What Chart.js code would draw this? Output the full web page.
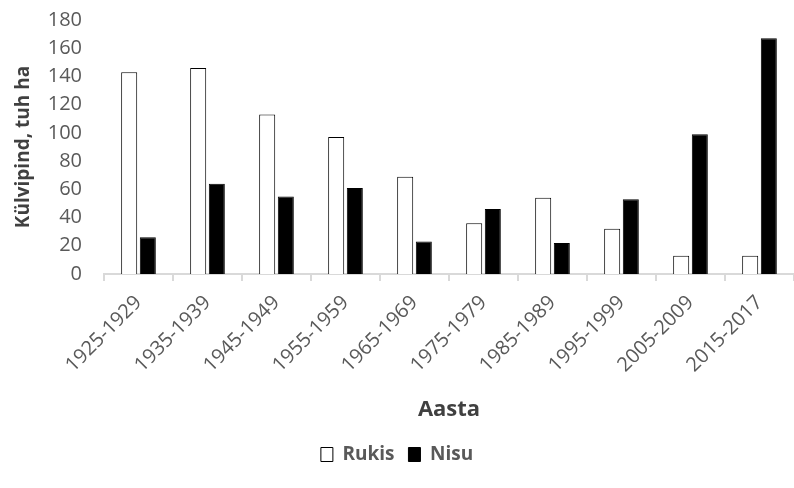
<!DOCTYPE html>
<html>
<head>
<meta charset="utf-8">
<script src="https://cdn.jsdelivr.net/npm/chart.js@4"></script>
<style>
  html, body { margin: 0; padding: 0; background: #fff; }
  #wrap { width: 794px; height: 488px; }
</style>
</head>
<body>
<div id="wrap"><canvas id="c" width="794" height="488"></canvas></div>
<script>
// Külvipind perioodide kaupa (tuh ha)
const periods = ['1925-1929', '1935-1939', '1945-1949', '1955-1959', '1965-1969',
                 '1975-1979', '1985-1989', '1995-1999', '2005-2009', '2015-2017'];
const rukis = [143, 146, 113, 97, 69, 36, 54, 32, 13, 13];
const nisu  = [26, 64, 55, 61, 23, 46, 22, 53, 99, 167];
const yTicks = [0, 20, 40, 60, 80, 100, 120, 140, 160, 180];

const grey = '#595959';
const font = 'Open Sans';

new Chart(document.getElementById('c').getContext('2d'), {
    type: 'bar',
    data: {
        labels: periods,
        datasets: [
            { label: 'Rukis', data: rukis, backgroundColor: '#ffffff', borderColor: '#000000', borderWidth: 1,
              categoryPercentage: 0.54, barPercentage: 0.86 },
            { label: 'Nisu', data: nisu, backgroundColor: '#000000', borderColor: '#000000', borderWidth: 1,
              categoryPercentage: 0.54, barPercentage: 0.86 }
        ]
    },
    options: {
        responsive: false,
        animation: false,
        layout: { padding: { top: 20, right: 0, left: 0, bottom: 14 } },
        plugins: {
            tooltip: { enabled: false },
            legend: {
                position: 'bottom',
                labels: {
                    color: grey,
                    font: { family: font, size: 19, weight: 'bold' },
                    boxWidth: 12, boxHeight: 14, padding: 14
                }
            }
        },
        scales: {
            x: {
                grid: { drawOnChartArea: false, drawTicks: true, tickLength: 7, color: '#d9d9d9', lineWidth: 2 },
                border: { display: true, color: '#d9d9d9', width: 2 },
                ticks: { color: grey, font: { family: font, size: 20 }, minRotation: 45, maxRotation: 45, padding: 10 },
                title: { display: true, text: 'Aasta', color: '#404040', font: { family: font, size: 22, weight: 'bold' }, padding: { top: 0, bottom: 8 } },
                afterFit: function (axis) { axis.height = 157; }
            },
            y: {
                min: 0, max: 180,
                afterBuildTicks: function (axis) { axis.ticks = yTicks.map(function (v) { return { value: v }; }); },
                // tickLength gives the gap between labels and plot; marks are hidden
                grid: { display: false, drawTicks: true, tickLength: 22 },
                border: { display: false },
                ticks: { color: grey, font: { family: font, size: 20 }, padding: 0, autoSkip: false },
                title: { display: true, text: 'Külvipind, tuh ha', color: '#404040', font: { family: font, size: 19, weight: 'bold' }, padding: { top: 12, bottom: 0 } },
                afterFit: function (axis) { axis.width = 104; }
            }
        }
    }
});
</script>
</body>
</html>
